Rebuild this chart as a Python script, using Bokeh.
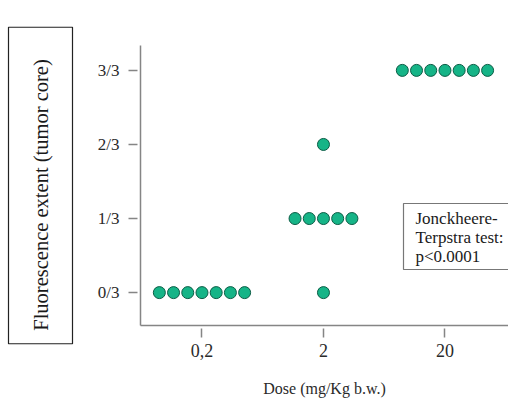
import numpy as np
from bokeh.plotting import figure
from bokeh.models import ColumnDataSource, FixedTicker, Label, Title
from bokeh.embed import file_html
from bokeh.resources import INLINE

# --- data -------------------------------------------------------------
dose_labels = ["0,2", "2", "20"]
dose_pos = [1, 2, 3]
score_labels = ["0/3", "1/3", "2/3", "3/3"]
score_pos = [0, 1, 2, 3]
# number of animals per dose at each score level (0/3, 1/3, 2/3, 3/3)
counts_low = [7, 0, 0, 0]
counts_mid = [1, 5, 1, 0]
counts_high = [0, 0, 0, 7]
groups = [counts_low, counts_mid, counts_high]

dot_step = 0.117  # horizontal spacing between stacked dots (data units)

xs, ys = [], []
for gx, counts in zip(dose_pos, groups):
    for lvl, n in zip(score_pos, counts):
        offs = (np.arange(n) - (n - 1) / 2.0) * dot_step
        xs.extend(list(gx + offs))
        ys.extend([lvl] * n)
src = ColumnDataSource(dict(x=xs, y=ys))

FONT = "Liberation Serif"
AX = "#858585"
TXT = "#2a2a2a"

p = figure(width=508, height=399, output_backend="svg", toolbar_location=None,
           x_range=(0.494, 3.523), y_range=(-0.444, 3.336),
           min_border_left=140, min_border_right=0, min_border_top=45,
           min_border_bottom=73)
p.outline_line_color = None
p.grid.visible = False
p.background_fill_color = "white"
p.border_fill_color = "white"

p.scatter("x", "y", source=src, size=12, fill_color="#16b487",
          line_color="#0b5c45", line_width=1)

# axes
p.xaxis.ticker = FixedTicker(ticks=dose_pos)
p.xaxis.major_label_overrides = {pos: lab for pos, lab in zip(dose_pos, dose_labels)}
p.yaxis.ticker = FixedTicker(ticks=score_pos)
p.yaxis.major_label_overrides = {pos: lab for pos, lab in zip(score_pos, score_labels)}
for ax in (p.xaxis[0], p.yaxis[0]):
    ax.axis_line_color = AX
    ax.axis_line_width = 1.5
    ax.major_tick_line_color = AX
    ax.major_tick_line_width = 1.5
    ax.major_tick_in = -3
    ax.major_tick_out = 12
    ax.minor_tick_line_color = None
    ax.major_label_text_font = FONT
    ax.major_label_text_color = TXT
    ax.axis_label_text_font = FONT
    ax.axis_label_text_font_style = "normal"
    ax.axis_label_text_color = TXT
p.yaxis.major_label_text_font_size = "17px"
p.xaxis.major_label_text_font_size = "18px"
p.yaxis.major_label_standoff = 9
p.xaxis.major_label_standoff = 6
p.xaxis.axis_label = "Dose (mg/Kg b.w.)"
p.xaxis.axis_label_text_font_size = "16px"
p.xaxis.axis_label_standoff = 20
# empty y axis label only used as spacing before the boxed title
p.yaxis.axis_label = " "
p.yaxis.axis_label_text_font_size = "10px"
p.yaxis.axis_label_standoff = 8

# boxed y-axis title  (padding order: left, right, top, bottom in text frame)
p.add_layout(Title(text="Fluorescence extent (tumor core)", align="center",
                   text_font=FONT, text_font_size="20.5px", text_color="#1a1a1a",
                   text_font_style="normal",
                   border_line_color="#222222", border_line_width=1.2,
                   background_fill_color="white", standoff=0,
                   padding=(13, 32, 21, 21)), "left")

# statistics box
p.add_layout(Label(x=263, y=122, x_units="screen", y_units="screen",
                   text="Jonckheere-\nTerpstra test:\np<0.0001",
                   text_align="left", text_baseline="top",
                   text_font=FONT, text_font_size="17px", text_color="#1a1a1a",
                   text_line_height=1.0,
                   border_line_color="#777777", border_line_width=1.2,
                   background_fill_color="white",
                   padding=(12, 11, 5, 4)))

open("out.html", "w").write(file_html(p, INLINE))
